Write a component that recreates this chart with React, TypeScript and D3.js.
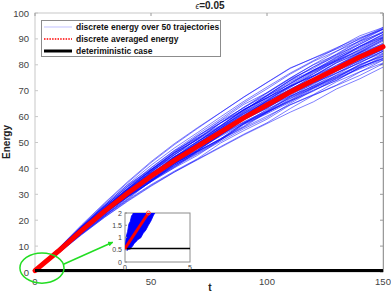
import * as d3 from 'd3';
import React, { useEffect, useRef } from 'react';

// sample times of the trajectories (t)
const times = [0, 10, 20, 30, 40, 50, 60, 70, 80, 90, 100, 110, 120, 130, 140, 150];
// averaged energy
const meanEnergy = [0.55, 8, 16, 23.5, 30.5, 37, 43, 48.5, 54, 59.5, 64.5, 69.5, 74, 78.5, 83, 87];
// deterministic energy stays at its initial value
const deterministicEnergy = 0.55;

// offset of each of the 50 trajectories from the mean, at t = 10 ... 150
const trajectoryOffsets = [
  [0.8, 1.5, 2.1, 1.6, 2.4, 3.0, 2.6, 3.5, 4.1, 3.8, 4.6, 5.2, 4.8, 5.5, 5.9],
  [-0.5, -1.1, -0.7, -1.6, -2.2, -1.8, -2.7, -3.1, -2.5, -3.4, -3.9, -3.2, -4.0, -4.6, -5.1],
  [0.3, -0.2, 0.6, 1.1, 0.5, 1.3, 1.9, 1.2, 0.8, 1.6, 2.2, 1.5, 2.3, 1.8, 2.5],
  [-0.2, 0.4, -0.3, -0.9, -0.4, -1.2, -0.6, 0.1, -0.7, -1.3, -0.8, -1.6, -1.0, -0.4, -1.1],
  [0.6, 1.2, 1.9, 2.7, 3.3, 3.9, 4.6, 5.1, 5.8, 6.2, 6.9, 7.3, 6.8, 6.1, 5.4],
  [-0.7, -1.5, -2.3, -2.9, -3.6, -4.4, -5.0, -5.6, -6.3, -6.9, -6.4, -5.8, -6.5, -7.1, -6.6],
  [0.1, 0.7, 0.2, -0.4, 0.3, 0.9, 0.4, 1.0, 1.7, 2.3, 1.8, 2.5, 3.1, 2.6, 3.3],
  [-0.4, -0.9, -0.3, 0.3, -0.2, -0.8, -1.5, -1.0, -1.7, -2.4, -1.9, -1.2, -0.6, -1.3, -0.7],
  [0.9, 1.6, 2.4, 3.2, 2.6, 3.4, 4.1, 3.5, 2.9, 3.6, 4.4, 3.8, 3.1, 3.9, 4.5],
  [-0.3, 0.2, 0.8, 0.3, 1.0, 0.4, -0.3, -0.9, -0.4, 0.2, -0.5, -1.1, -1.8, -1.2, -1.9],
  [0.5, 0.1, -0.5, -1.2, -0.6, -1.3, -2.0, -2.6, -2.1, -2.8, -3.4, -2.9, -3.6, -3.0, -3.7],
  [0.2, 0.9, 1.4, 0.8, 1.5, 2.2, 2.9, 2.3, 3.0, 3.7, 4.5, 5.1, 5.7, 6.4, 6.9],
  [-0.6, -0.2, -0.8, -1.4, -2.1, -1.5, -0.9, -1.6, -2.3, -1.7, -2.4, -3.0, -2.4, -1.8, -2.5],
  [0.4, 1.0, 0.5, 1.2, 1.8, 1.3, 0.7, 1.4, 2.0, 1.5, 0.9, 1.6, 2.2, 1.7, 1.1],
  [-0.1, -0.6, -1.2, -0.7, -1.4, -1.0, -1.7, -1.2, -0.6, -1.3, -0.8, -0.2, -0.9, -1.5, -1.0],
  [0.7, 1.3, 2.0, 2.6, 2.1, 2.9, 3.6, 4.3, 3.8, 4.5, 5.1, 4.6, 5.3, 4.9, 5.6],
  [-0.8, -1.4, -2.0, -1.5, -2.2, -2.8, -3.5, -3.0, -3.7, -4.3, -4.9, -5.5, -5.0, -5.7, -6.3],
  [0.0, 0.5, 1.1, 1.7, 1.2, 0.6, 1.3, 0.8, 0.2, 0.8, 0.3, -0.3, 0.4, 1.0, 0.5],
  [0.3, 0.8, 0.3, 0.9, 1.6, 2.3, 1.8, 2.4, 3.2, 2.7, 3.4, 4.0, 3.5, 4.2, 4.8],
  [-0.5, -1.0, -0.4, -1.1, -1.7, -1.2, -1.9, -2.5, -3.2, -2.6, -2.0, -2.7, -3.3, -2.8, -3.5],
  [0.6, 0.2, 0.8, 1.5, 2.1, 1.6, 1.0, 1.7, 2.4, 1.9, 2.6, 3.3, 2.8, 2.2, 2.9],
  [-0.2, -0.8, -1.5, -2.1, -1.6, -2.3, -3.0, -3.6, -4.2, -4.9, -4.4, -3.8, -4.5, -4.0, -4.7],
  [0.4, 1.1, 1.8, 2.4, 3.1, 3.8, 3.2, 2.6, 3.3, 2.8, 2.2, 2.9, 3.6, 4.2, 3.7],
  [-0.4, 0.1, -0.4, 0.2, 0.9, 0.3, 1.0, 1.6, 1.1, 0.5, 1.2, 0.7, 0.1, 0.8, 1.4],
  [0.1, -0.5, -1.1, -0.6, -0.1, -0.7, -1.3, -0.8, -1.5, -2.1, -1.6, -2.3, -2.9, -3.5, -3.0],
  [0.9, 1.8, 2.9, 4.0, 5.2, 6.1, 6.9, 7.5, 8.0, 8.6, 9.1, 8.6, 8.1, 7.5, 6.9],
  [-0.3, -0.9, -0.5, -1.1, -0.5, 0.1, -0.5, -1.2, -0.7, -0.1, 0.6, 0.1, -0.6, 0.0, 0.6],
  [0.2, 0.6, 0.0, 0.6, 1.3, 0.8, 1.5, 2.2, 1.7, 1.1, 1.8, 2.5, 3.2, 2.7, 3.4],
  [-0.6, -1.3, -1.9, -2.6, -3.3, -4.1, -4.8, -4.2, -4.9, -5.5, -5.0, -5.7, -6.3, -5.8, -5.2],
  [0.5, 1.1, 0.6, 0.1, 0.7, 1.4, 2.0, 1.5, 2.2, 2.8, 2.3, 1.8, 2.5, 3.1, 3.7],
  [0.0, -0.4, 0.2, 0.7, 0.2, -0.4, 0.2, 0.9, 1.5, 1.0, 0.4, -0.2, 0.5, -0.1, -0.6],
  [1.0, 2.1, 3.2, 4.4, 5.6, 6.5, 7.2, 7.6, 8.1, 8.7, 9.3, 8.5, 7.6, 6.9, 7.4],
  [-0.1, 0.4, 1.0, 0.5, -0.1, 0.6, 1.2, 0.7, 0.1, -0.5, 0.1, 0.8, 1.4, 0.9, 0.3],
  [-0.7, -1.2, -1.8, -2.4, -1.9, -1.3, -2.0, -2.6, -2.1, -2.7, -3.3, -3.9, -4.5, -4.0, -4.6],
  [0.3, 0.9, 1.5, 1.0, 0.4, 1.1, 1.7, 2.4, 3.0, 3.6, 3.1, 3.7, 4.3, 5.0, 5.5],
  [-0.2, -0.7, -0.2, -0.8, -1.4, -2.0, -1.5, -0.9, -0.3, -0.9, -1.6, -2.2, -1.7, -2.3, -1.8],
  [0.6, 1.2, 1.7, 1.2, 1.8, 2.5, 3.1, 3.7, 3.2, 2.6, 3.2, 3.9, 4.5, 4.0, 4.7],
  [-0.5, -0.1, -0.6, -1.3, -2.0, -2.7, -2.1, -2.8, -3.5, -2.9, -3.6, -4.2, -3.7, -4.3, -3.8],
  [0.2, 0.7, 1.3, 2.0, 2.6, 2.1, 2.8, 3.5, 4.1, 4.8, 5.4, 6.1, 6.7, 7.2, 6.6],
  [-0.3, 0.3, -0.2, -0.8, -0.3, 0.4, 1.0, 0.5, -0.1, -0.7, -1.3, -0.7, -0.1, -0.7, -1.3],
  [0.4, -0.1, 0.5, 1.1, 0.6, 1.2, 0.6, 0.1, 0.8, 1.4, 0.9, 1.5, 0.9, 1.6, 2.1],
  [-0.9, -1.7, -2.4, -3.2, -3.9, -4.5, -5.2, -5.9, -6.6, -7.2, -7.8, -8.3, -7.8, -8.4, -7.9],
  [0.7, 1.4, 0.9, 1.6, 2.3, 3.0, 2.5, 1.9, 2.6, 3.3, 3.9, 3.4, 4.0, 3.5, 4.1],
  [-0.1, -0.7, -1.3, -0.8, -1.4, -0.9, -0.3, 0.3, -0.3, -0.9, -0.4, -1.0, -1.6, -2.2, -1.7],
  [0.1, 0.6, 1.2, 1.8, 2.5, 3.2, 3.9, 4.5, 5.2, 4.7, 5.3, 6.0, 5.4, 6.1, 6.7],
  [-0.4, -1.0, -1.6, -1.1, -1.7, -2.4, -1.8, -1.2, -1.9, -2.5, -3.1, -2.6, -3.2, -3.8, -4.4],
  [0.5, 0.0, 0.6, 0.1, 0.8, 1.5, 0.9, 0.3, 1.0, 1.7, 2.3, 1.8, 1.2, 1.9, 2.6],
  [-0.2, 0.3, 0.9, 1.4, 0.8, 0.2, -0.4, 0.2, 0.7, 0.1, -0.5, 0.1, 0.7, 1.3, 0.8],
  [0.3, -0.3, -0.9, -1.6, -1.1, -1.8, -2.4, -3.0, -2.4, -3.1, -2.6, -2.0, -2.6, -3.2, -2.7],
  [0.7, 1.5, 2.4, 3.3, 4.2, 4.8, 5.3, 5.9, 6.4, 6.9, 7.3, 7.6, 7.9, 8.2, 7.4],
];

const xTicks = [0, 50, 100, 150];
const yTicks = [0, 10, 20, 30, 40, 50, 60, 70, 80, 90, 100];

// zoomed inset near t = 0
const insetTimes = [0, 0.1, 0.2, 0.3, 0.4, 0.5, 0.6, 0.7, 0.8, 1.0, 1.2, 1.4, 1.6, 1.8, 2.0, 2.2, 2.4, 2.6];
const insetHigh = [0.55, 1.05, 1.25, 1.55, 1.65, 1.88, 1.95, 2.1, 2.2, 2.4, 2.6, 2.8, 3.0, 3.2, 3.4, 3.6, 3.8, 4.0];
const insetLow = [0.55, 0.5, 0.48, 0.53, 0.52, 0.6, 0.66, 0.76, 0.8, 0.92, 0.98, 1.17, 1.3, 1.5, 1.68, 1.92, 2.08, 2.3];
const insetMeanTimes = [0, 0.6, 1.2, 1.8];
const insetMean = [0.55, 1.04, 1.52, 2.0];
const insetXTicks = [0, 5];
const insetYTicks = [0, 0.5, 1, 1.5, 2];

const legendItems = [
  'discrete energy over 50 trajectories',
  'discrete averaged energy',
  'deteriministic case',
];

const FONT = '"Liberation Sans", Arial, sans-serif';

function drawChart(node) {
  const svg = d3.select(node);
  svg.selectAll('*').remove();

  const x = d3.scaleLinear().domain([0, 150]).range([35, 383]);
  const y = d3.scaleLinear().domain([0, 100]).range([272, 13]);

  // axes box
  svg.append('rect')
    .attr('x', 35).attr('y', 13)
    .attr('width', 348).attr('height', 259)
    .attr('fill', 'white')
    .attr('stroke', '#c8c8c8')
    .attr('stroke-width', 1);
  svg.append('line')
    .attr('x1', 383.5).attr('x2', 383.5).attr('y1', 13).attr('y2', 272)
    .attr('stroke', '#9a9a9a');

  // ticks, mirrored on all four sides, pointing inwards
  const tk = 3;
  svg.append('g').selectAll('line').data(yTicks).join('line')
    .attr('x1', 35).attr('x2', 35 + tk)
    .attr('y1', d => y(d)).attr('y2', d => y(d))
    .attr('stroke', '#c8c8c8');
  svg.append('g').selectAll('line').data(yTicks).join('line')
    .attr('x1', 383).attr('x2', 383 - tk)
    .attr('y1', d => y(d)).attr('y2', d => y(d))
    .attr('stroke', '#9a9a9a');
  svg.append('g').selectAll('line').data(xTicks).join('line')
    .attr('x1', d => x(d)).attr('x2', d => x(d))
    .attr('y1', 13).attr('y2', 13 + tk)
    .attr('stroke', '#9a9a9a');

  svg.append('g').selectAll('text').data(yTicks).join('text')
    .attr('x', 29).attr('y', d => y(d) + 3.5)
    .attr('text-anchor', 'end')
    .attr('font-family', FONT).attr('font-size', 9.5)
    .attr('fill', '#444')
    .text(d => d);
  svg.append('g').selectAll('text').data(xTicks).join('text')
    .attr('x', d => x(d)).attr('y', 285)
    .attr('text-anchor', 'middle')
    .attr('font-family', FONT).attr('font-size', 9.5)
    .attr('fill', '#444')
    .text(d => d);

  // trajectories
  const line = d3.line()
    .x(d => x(d[0]))
    .y(d => y(d[1]));

  const trajectories = trajectoryOffsets.map(offs =>
    times.map((t, i) => [t, meanEnergy[i] + (i === 0 ? 0 : offs[i - 1])]));

  svg.append('g').selectAll('path').data(trajectories).join('path')
    .attr('d', line)
    .attr('fill', 'none')
    .attr('stroke', '#0000ff')
    .attr('stroke-width', 0.6)
    .attr('stroke-opacity', 0.85);

  svg.append('path')
    .datum(times.map((t, i) => [t, meanEnergy[i]]))
    .attr('d', line)
    .attr('fill', 'none')
    .attr('stroke', '#ff0000')
    .attr('stroke-width', 5)
    .attr('stroke-linecap', 'round')
    .attr('stroke-linejoin', 'round');

  svg.append('path')
    .datum([[0, deterministicEnergy], [150, deterministicEnergy]])
    .attr('d', line)
    .attr('fill', 'none')
    .attr('stroke', 'black')
    .attr('stroke-width', 3);

  // titles
  const title = svg.append('text')
    .attr('x', 210).attr('y', 9)
    .attr('text-anchor', 'middle')
    .attr('font-family', FONT).attr('font-size', 10)
    .attr('font-weight', 'bold')
    .attr('fill', '#222');
  title.append('tspan').attr('font-style', 'italic').attr('font-weight', 'normal').attr('font-size', 8.5).text('ϵ');
  title.append('tspan').text('=0.05');

  svg.append('text')
    .attr('transform', 'translate(10,142) rotate(-90)')
    .attr('text-anchor', 'middle')
    .attr('font-family', FONT).attr('font-size', 10)
    .attr('font-weight', 'bold')
    .attr('fill', '#222')
    .text('Energy');

  svg.append('text')
    .attr('x', 210).attr('y', 291)
    .attr('text-anchor', 'middle')
    .attr('font-family', FONT).attr('font-size', 10)
    .attr('font-weight', 'bold')
    .attr('fill', '#222')
    .text('t');

  // legend
  const lg = svg.append('g');
  lg.append('rect')
    .attr('x', 41.5).attr('y', 20.5)
    .attr('width', 179).attr('height', 36)
    .attr('fill', 'white')
    .attr('stroke', '#8c8c8c')
    .attr('stroke-width', 1);
  const rows = lg.selectAll('g').data(legendItems).join('g')
    .attr('transform', (d, i) => `translate(0,${27 + i * 12})`);
  rows.append('line')
    .attr('x1', 44).attr('x2', 72).attr('y1', 0).attr('y2', 0)
    .attr('stroke', (d, i) => ['#a8a8ff', '#ff0000', 'black'][i])
    .attr('stroke-width', (d, i) => [0.7, 1.5, 3][i])
    .attr('stroke-dasharray', (d, i) => (i === 1 ? '1.5,1.2' : null));
  rows.append('text')
    .attr('x', 76).attr('y', 3)
    .attr('font-family', FONT).attr('font-size', 8.5)
    .attr('font-weight', 'bold')
    .attr('fill', '#111')
    .text(d => d);

  // green annotation: ellipse and arrow
  const green = '#22dd22';
  svg.append('ellipse')
    .attr('cx', x(3)).attr('cy', y(1.5))
    .attr('rx', x(9.5) - x(0)).attr('ry', y(0) - y(5.8))
    .attr('fill', 'none')
    .attr('stroke', green)
    .attr('stroke-width', 1.5);
  svg.append('defs').append('marker')
    .attr('id', 'arrowhead')
    .attr('viewBox', '0 0 10 10')
    .attr('refX', 9).attr('refY', 5)
    .attr('markerWidth', 5).attr('markerHeight', 5)
    .attr('markerUnits', 'userSpaceOnUse')
    .attr('orient', 'auto')
    .append('path').attr('d', 'M0,0 L10,5 L0,10 z').attr('fill', green);
  svg.append('line')
    .attr('x1', x(12.3)).attr('y1', y(3))
    .attr('x2', x(33.5)).attr('y2', y(11.5))
    .attr('stroke', green)
    .attr('stroke-width', 1.5)
    .attr('marker-end', 'url(#arrowhead)');

  // inset
  const ix = d3.scaleLinear().domain([0, 5]).range([125, 190]);
  const iy = d3.scaleLinear().domain([0, 2]).range([262, 213]);
  const inset = svg.append('g');
  inset.append('defs').append('clipPath').attr('id', 'insetClip')
    .append('rect').attr('x', 125).attr('y', 213).attr('width', 65).attr('height', 49);
  inset.append('rect')
    .attr('x', 125).attr('y', 213).attr('width', 65).attr('height', 49)
    .attr('fill', 'white')
    .attr('stroke', '#8c8c8c');

  const plot = inset.append('g').attr('clip-path', 'url(#insetClip)');
  const band = d3.area()
    .x((d, i) => ix(insetTimes[i]))
    .y0((d, i) => iy(insetLow[i]))
    .y1((d, i) => iy(insetHigh[i]));
  plot.append('path')
    .datum(insetTimes)
    .attr('d', band)
    .attr('fill', '#0000ff')
    .attr('stroke', '#0000ff')
    .attr('stroke-width', 0.8);
  const iline = d3.line().x(d => ix(d[0])).y(d => iy(d[1]));
  plot.append('path')
    .datum([[0, deterministicEnergy], [5, deterministicEnergy]])
    .attr('d', iline)
    .attr('stroke', 'black')
    .attr('stroke-width', 1.6);
  plot.append('path')
    .datum(insetMeanTimes.map((t, i) => [t, insetMean[i]]))
    .attr('d', iline)
    .attr('fill', 'none')
    .attr('stroke', '#ff0000')
    .attr('stroke-width', 3)
    .attr('stroke-linecap', 'round');
  inset.append('circle')
    .attr('cx', ix(insetMeanTimes[3])).attr('cy', iy(insetMean[3]))
    .attr('r', 2)
    .attr('fill', 'none')
    .attr('stroke', '#ff4444')
    .attr('stroke-width', 1);

  inset.append('g').selectAll('line').data(insetYTicks).join('line')
    .attr('x1', 125).attr('x2', 127)
    .attr('y1', d => iy(d)).attr('y2', d => iy(d))
    .attr('stroke', '#8c8c8c');
  inset.append('g').selectAll('text').data(insetYTicks).join('text')
    .attr('x', 122).attr('y', d => iy(d) + 2.5)
    .attr('text-anchor', 'end')
    .attr('font-family', FONT).attr('font-size', 7)
    .attr('fill', '#444')
    .text(d => d);
  inset.append('g').selectAll('text').data(insetXTicks).join('text')
    .attr('x', d => ix(d)).attr('y', 270)
    .attr('text-anchor', 'middle')
    .attr('font-family', FONT).attr('font-size', 7)
    .attr('fill', '#444')
    .text(d => d);
}

export default function App() {
  const ref = useRef(null);
  useEffect(() => drawChart(ref.current), []);
  return (
    <svg ref={ref} width={391} height={293}
      style={{ position: 'absolute', left: 0, top: 0, background: 'white' }} />
  );
}
